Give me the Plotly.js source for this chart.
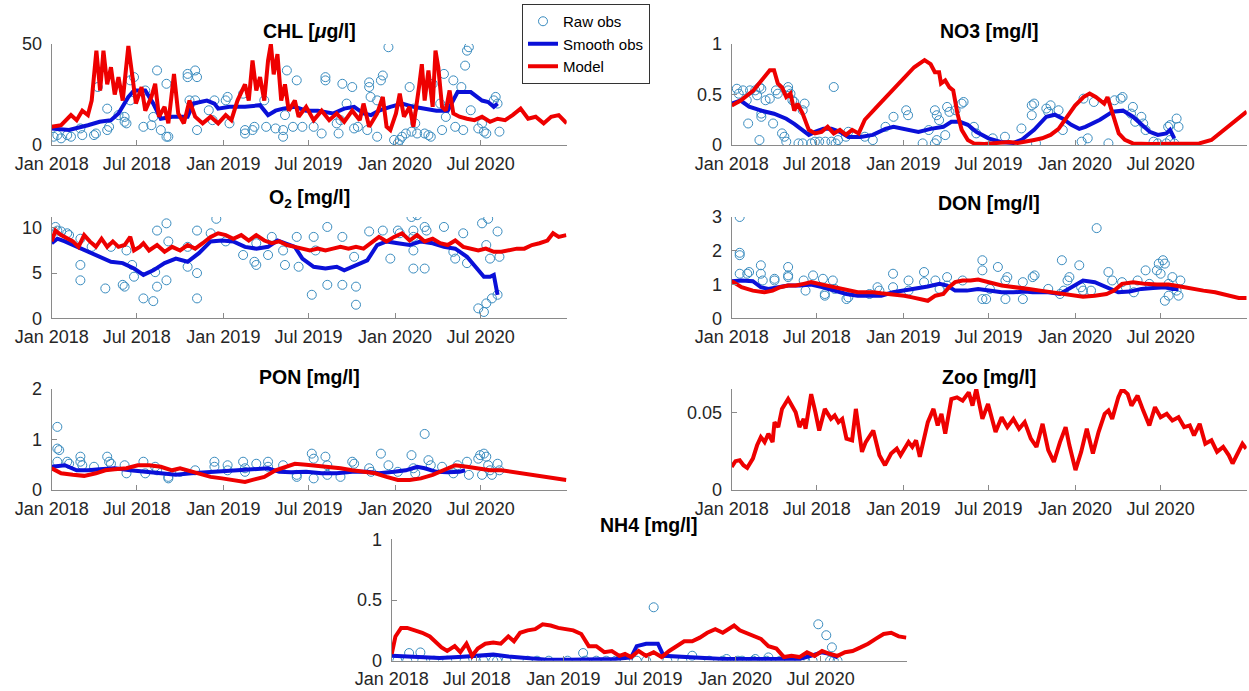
<!DOCTYPE html>
<html>
<head>
<meta charset="utf-8">
<script src="https://cdn.plot.ly/plotly-3.0.1.min.js"></script>
<style>
  html, body { margin: 0; padding: 0; background: #ffffff; }
  #chart { width: 1249px; height: 691px; }
</style>
</head>
<body>
<div id="chart"></div>
<script>
// Days since 2018-01-01 paired with values: [day, value]

const tickDates  = ['2018-01-01', '2018-07-01', '2019-01-01', '2019-07-01', '2020-01-01', '2020-07-01'];
const tickLabels = ['Jan 2018', 'Jul 2018', 'Jan 2019', 'Jul 2019', 'Jan 2020', 'Jul 2020'];

// ---------- CHL [ug/l] ----------
const chlObs = [[4,4.1],[12,4.9],[20,3.3],[33,4.9],[41,4.1],[61,8.2],[65,4.9],[90,4.9],[94,5.7],[98,28.7],[118,7.4],[122,9],[118,18],[142,14.8],[155,13.9],[155,11.5],[159,10.7],[167,32],[167,22.1],[175,33.6],[195,9],[199,27],[212,9.8],[216,13.9],[224,36.9],[232,7.4],[244,30.3],[244,4.1],[248,4.1],[289,35.2],[289,33.6],[305,36.9],[309,33.6],[293,22.1],[305,22.1],[309,7.4],[334,17.2],[342,12.3],[346,22.1],[370,22.1],[374,23.8],[378,10.7],[407,25.4],[411,7.4],[411,5.7],[427,7.4],[431,9],[452,22.1],[456,9],[476,8.2],[492,7.4],[492,4.1],[496,14.8],[500,36.9],[513,9],[521,32],[533,9],[557,9],[574,5.7],[582,33.6],[582,32],[606,10.7],[610,5.7],[614,12.3],[618,30.3],[627,20.5],[639,28.7],[643,8.2],[651,9],[671,7.4],[675,31],[675,28.7],[678,23.8],[692,22.1],[692,4.1],[700,32],[704,34.4],[716,48.4],[728,2.5],[736,0.8],[740,2.5],[745,4.1],[753,5.7],[761,28.7],[765,6.6],[769,18],[773,10.7],[777,5.7],[793,5.7],[801,4.9],[806,4.1],[810,30.3],[826,20.5],[830,7.4],[834,35.2],[838,13.9],[854,32],[858,9],[871,28.7],[875,7.4],[879,39.3],[883,46.7],[887,48.4],[891,17.2],[907,8.2],[915,10.7],[919,6.6],[924,5.7],[940,22.1],[944,23.8],[948,20.5],[952,6.6]];
const chlSmooth = [[0,8.2],[37,7.4],[77,9.8],[102,11.5],[126,12.3],[142,15.6],[163,23.8],[175,27],[199,27],[216,20.5],[232,13],[256,14],[289,14],[301,20.5],[330,22],[346,20.5],[354,18],[378,18.9],[411,18.9],[443,19.7],[460,14.8],[476,17],[492,18],[517,18.9],[541,17],[566,17],[598,15.6],[622,18],[643,18.9],[663,15.6],[679,14.8],[696,17],[720,18.9],[745,20.5],[769,18.9],[793,18],[818,17],[842,17],[863,26.2],[891,26.2],[915,22],[928,21.3],[940,18.9],[948,20.5]];
const chlModel = [[0,9],[20,9.8],[41,14.8],[53,12.3],[65,17],[77,14.8],[85,22],[95,46.7],[103,27],[110,46.7],[118,30],[126,38.5],[134,25],[142,33.6],[151,22],[163,49],[171,35],[179,20.5],[191,28.7],[199,17],[212,23.8],[220,30.3],[228,14],[240,18.9],[248,10.7],[260,35.2],[269,15.6],[281,10.7],[293,22],[305,14],[321,10.7],[338,14],[354,10.7],[370,14.8],[382,12.3],[395,22],[411,30],[419,22],[427,41.8],[435,27],[443,33.6],[452,22],[460,41.8],[466,50],[472,35],[480,45],[488,22],[496,30],[504,17],[517,22],[525,14],[541,18.9],[557,12.3],[574,17],[590,12.3],[606,15.6],[622,11.5],[639,17],[655,12.3],[663,20.5],[675,9],[692,15.6],[704,23.8],[712,9],[720,7.4],[732,15.6],[740,25.4],[749,14],[761,18.9],[769,9],[781,28.7],[787,40],[793,22],[801,36.9],[810,18.9],[816,46.7],[822,38.5],[830,18.9],[838,17],[846,27],[854,15.6],[867,14],[883,13],[899,12.3],[915,14],[932,11.5],[948,13],[964,12.3],[980,14.8],[997,18],[1013,13],[1029,14],[1046,10.7],[1062,14],[1078,14.8],[1095,10.7]];

// ---------- NO3 [mg/l] ----------
const no3Obs = [[11,.557],[15,.508],[24,.541],[32,.443],[39,.541],[50,.541],[54,.492],[59,.574],[63,.557],[59,.049],[35,.213],[63,.279],[63,.311],[72,.443],[81,.459],[88,.213],[94,.541],[98,.508],[107,.115],[112,.082],[116,.033],[120,.574],[120,.541],[125,.508],[129,.443],[133,.426],[142,.016],[151,.016],[155,.41],[151,.344],[169,.016],[177,.033],[186,.033],[199,.033],[212,.033],[217,.574],[221,.016],[226,.049],[243,.082],[248,.131],[283,.082],[300,.049],[327,.18],[344,.279],[371,.344],[375,.295],[406,.016],[419,.148],[432,.344],[436,.295],[441,.246],[432,.016],[436,.049],[454,.098],[458,.377],[463,.328],[476,.344],[489,.41],[493,.426],[515,.18],[520,.115],[555,.066],[581,.082],[616,.164],[638,.393],[643,.41],[638,.295],[647,.016],[669,.361],[673,.328],[678,.393],[695,.344],[704,.148],[744,.033],[748,.459],[757,.066],[770,.426],[801,.016],[814,.443],[827,.459],[831,.475],[849,.311],[853,.377],[858,.23],[871,.279],[875,.213],[880,.148],[897,.033],[906,.016],[924,.016],[928,.18],[932,.049],[941,.016],[946,.262],[950,.18],[932,.197]];
const no3Smooth = [[0,.41],[19,.44],[37,.38],[63,.34],[90,.31],[116,.26],[133,.21],[151,.15],[164,.10],[177,.13],[195,.16],[212,.16],[230,.13],[248,.08],[274,.08],[300,.10],[327,.16],[344,.18],[371,.15],[397,.13],[423,.16],[450,.18],[467,.23],[485,.23],[502,.20],[520,.13],[546,.066],[572,.03],[599,.02],[616,.05],[643,.15],[669,.28],[687,.30],[704,.26],[722,.20],[739,.16],[752,.18],[766,.21],[783,.25],[810,.33],[832,.34],[853,.28],[871,.20],[889,.13],[906,.10],[924,.115],[932,.15],[941,.066]];
const no3Model = [[0,.39],[19,.44],[46,.54],[68,.67],[81,.74],[90,.74],[98,.61],[107,.57],[116,.475],[125,.51],[133,.34],[140,.41],[151,.31],[164,.15],[177,.115],[191,.13],[204,.18],[217,.115],[230,.15],[243,.10],[256,.15],[270,.115],[283,.25],[309,.38],[335,.51],[362,.64],[388,.77],[410,.84],[423,.80],[432,.72],[441,.72],[445,.61],[454,.64],[463,.57],[471,.54],[480,.31],[489,.15],[502,.05],[515,.016],[537,.01],[564,.016],[590,.03],[608,.02],[625,.03],[643,.05],[660,.066],[678,.10],[695,.16],[713,.28],[730,.39],[748,.475],[761,.51],[774,.475],[783,.44],[792,.41],[799,.475],[805,.38],[814,.25],[823,.115],[836,.05],[853,.016],[889,.01],[950,.01],[994,.016],[1020,.05],[1047,.15],[1073,.25],[1095,.33]];

// ---------- O2 [mg/l] ----------
const o2Obs = [[8,10.1],[12,9.7],[20,9.6],[33,9.4],[37,9.2],[61,8.8],[61,5.9],[61,4.2],[85,7.9],[114,3.3],[126,7.9],[151,3.7],[155,3.5],[159,7.5],[171,5.9],[175,4.6],[195,2.2],[216,1.9],[220,5.1],[224,9.7],[224,3.5],[244,4.2],[244,10.5],[248,8.5],[289,5.7],[289,7.9],[309,9.7],[309,5.0],[309,2.2],[338,9.4],[350,11.0],[370,8.5],[407,7.0],[431,6.25],[435,5.9],[435,8.3],[460,7.0],[468,9.0],[492,7.5],[496,5.9],[521,9.0],[525,5.7],[553,2.6],[557,9.0],[561,7.5],[586,10.1],[586,3.7],[618,9.0],[618,3.7],[643,6.8],[647,3.5],[647,1.5],[675,9.6],[704,9.7],[720,6.6],[736,9.7],[740,9.4],[765,11.2],[777,11.4],[769,9.7],[769,9.0],[769,7.5],[769,5.5],[793,5.5],[793,10.1],[797,9.7],[834,10.1],[854,7.35],[858,6.6],[875,9.4],[883,6.1],[907,1.1],[915,10.5],[919,0.7],[924,1.65],[928,11.0],[924,8.1],[932,6.6],[936,2.2],[948,2.6],[948,9.6],[952,6.8]];
const o2Smooth = [[0,8.3],[12,8.8],[28,8.5],[53,7.9],[77,7.35],[102,6.8],[126,6.25],[151,6.1],[175,5.5],[195,4.8],[216,5.3],[240,6.1],[264,6.6],[289,6.25],[313,7.2],[338,8.5],[362,8.6],[386,8.5],[411,7.9],[435,7.7],[460,7.9],[480,8.6],[517,7.9],[533,6.6],[557,5.7],[582,5.5],[606,5.7],[622,5.3],[647,5.9],[671,6.4],[692,8.1],[712,8.5],[736,8.3],[761,8.1],[785,8.5],[810,8.3],[834,7.9],[858,7.7],[883,6.8],[903,5.5],[919,4.6],[932,4.6],[940,4.8],[948,2.6]];
const o2Model = [[0,8.5],[8,9.7],[20,9.2],[33,8.8],[45,8.5],[57,7.9],[69,9.2],[81,8.5],[94,7.9],[106,8.8],[118,7.9],[130,8.5],[142,7.9],[155,8.1],[167,9.0],[175,7.5],[187,7.9],[195,8.3],[207,7.5],[224,8.1],[240,7.35],[256,7.9],[273,7.5],[289,8.1],[305,7.7],[321,8.3],[338,9.0],[354,9.4],[370,9.2],[386,8.8],[403,9.2],[419,8.6],[435,9.2],[452,8.6],[468,8.3],[484,8.5],[500,8.1],[517,7.9],[533,7.7],[549,7.5],[566,7.7],[582,7.5],[598,7.7],[614,7.9],[631,7.7],[647,7.9],[663,7.7],[679,8.3],[696,9.0],[712,8.5],[728,9.0],[745,9.4],[761,8.6],[777,9.2],[793,8.5],[810,8.8],[826,8.3],[842,8.1],[858,8.6],[875,7.9],[891,7.7],[907,7.5],[923,7.7],[940,7.35],[956,7.35],[972,7.5],[989,7.7],[1005,7.7],[1021,8.1],[1037,8.3],[1054,8.6],[1066,9.4],[1078,9.0],[1094,9.2]];

// ---------- DON [mg/l] ----------
const donObs = [[17,3.0],[17,1.94],[17,1.87],[17,1.32],[33,1.32],[37,1.37],[62,1.57],[62,1.32],[66,1.12],[91,1.17],[91,1.12],[120,1.52],[120,1.27],[120,1.22],[153,1.12],[157,0.82],[173,1.27],[194,1.17],[198,0.67],[198,0.72],[215,1.12],[219,0.87],[244,0.57],[248,0.62],[293,0.72],[310,0.92],[314,0.82],[343,1.32],[343,0.92],[376,1.12],[376,0.82],[409,1.37],[409,1.07],[433,1.12],[442,0.87],[458,1.22],[458,0.97],[491,1.12],[533,1.72],[533,1.42],[533,0.57],[541,0.57],[549,0.87],[566,1.52],[582,1.12],[586,1.22],[582,0.57],[619,1.07],[619,0.57],[640,1.22],[644,1.27],[673,0.87],[698,0.72],[702,1.72],[706,0.82],[714,1.12],[718,1.22],[739,1.57],[743,0.92],[747,0.82],[764,0.82],[776,2.67],[801,1.37],[809,1.12],[830,1.07],[838,0.92],[855,0.77],[863,1.12],[880,1.42],[888,1.02],[904,1.42],[908,1.62],[912,1.32],[917,1.72],[921,1.62],[921,0.52],[929,0.67],[929,1.02],[937,1.22],[946,0.82],[950,0.67],[954,1.12]];
const donSmooth = [[0,1.1],[21,1.12],[45,1.1],[62,0.92],[78,0.87],[95,0.92],[120,0.97],[145,0.97],[169,1.0],[194,0.92],[219,0.82],[244,0.72],[268,0.67],[293,0.67],[318,0.67],[343,0.77],[367,0.82],[392,0.87],[417,0.94],[442,1.02],[458,0.97],[475,0.82],[500,0.82],[524,0.87],[549,0.82],[574,0.77],[599,0.77],[623,0.79],[640,0.77],[673,0.77],[698,0.72],[722,0.92],[747,1.12],[772,1.07],[797,0.92],[822,0.77],[846,0.79],[871,0.87],[896,0.9],[921,0.92],[937,0.87],[950,0.87]];
const donModel = [[0,1.1],[21,0.92],[45,0.82],[70,0.77],[87,0.82],[103,0.92],[120,0.97],[136,0.97],[153,1.02],[169,1.07],[186,1.02],[202,0.97],[219,0.92],[235,0.87],[252,0.82],[268,0.77],[285,0.77],[301,0.77],[318,0.74],[334,0.72],[351,0.67],[367,0.67],[384,0.62],[400,0.57],[417,0.52],[433,0.67],[450,0.72],[462,0.92],[475,1.07],[491,1.12],[508,1.12],[524,1.15],[541,1.09],[557,1.02],[574,0.97],[590,0.94],[607,0.92],[632,0.87],[656,0.82],[681,0.77],[706,0.72],[722,0.67],[747,0.64],[772,0.67],[797,0.72],[813,0.82],[830,1.02],[854,1.07],[879,1.02],[904,1.0],[929,1.0],[954,0.94],[978,0.87],[1003,0.82],[1028,0.77],[1053,0.67],[1078,0.6],[1095,0.6]];

// ---------- PON [mg/l] ----------
const ponObs = [[12,1.25],[12,0.82],[16,0.79],[12,0.56],[33,0.56],[37,0.52],[61,0.66],[61,0.56],[65,0.49],[90,0.46],[118,0.66],[122,0.56],[126,0.52],[155,0.49],[159,0.33],[195,0.56],[199,0.33],[220,0.46],[224,0.39],[248,0.26],[248,0.23],[273,0.36],[305,0.39],[346,0.56],[346,0.46],[374,0.49],[374,0.39],[407,0.56],[411,0.43],[411,0.36],[435,0.52],[460,0.56],[460,0.46],[492,0.49],[521,0.3],[521,0.26],[553,0.72],[557,0.62],[557,0.23],[582,0.66],[586,0.49],[586,0.3],[614,0.26],[639,0.56],[643,0.52],[675,0.43],[679,0.36],[700,0.72],[716,0.49],[736,0.36],[765,0.69],[769,0.43],[773,0.33],[793,1.11],[801,0.59],[806,0.49],[830,0.46],[854,0.33],[863,0.49],[883,0.56],[887,0.3],[907,0.62],[911,0.69],[919,0.72],[924,0.66],[915,0.3],[928,0.49],[932,0.39],[936,0.3],[948,0.52],[952,0.39]];
const ponSmooth = [[0,0.46],[28,0.49],[53,0.39],[77,0.39],[102,0.41],[134,0.43],[167,0.39],[199,0.36],[232,0.33],[264,0.3],[297,0.33],[330,0.36],[362,0.37],[395,0.39],[427,0.41],[460,0.43],[484,0.36],[509,0.35],[541,0.36],[574,0.33],[606,0.33],[639,0.36],[671,0.36],[696,0.33],[728,0.36],[753,0.39],[777,0.46],[793,0.43],[818,0.36],[842,0.35],[867,0.36],[879,0.39]];
const ponModel = [[0,0.43],[20,0.33],[45,0.30],[69,0.28],[94,0.33],[114,0.39],[134,0.41],[159,0.43],[183,0.49],[207,0.49],[232,0.46],[256,0.39],[273,0.43],[289,0.39],[313,0.33],[338,0.26],[362,0.23],[386,0.2],[411,0.16],[427,0.2],[452,0.26],[476,0.39],[496,0.46],[517,0.52],[541,0.5],[566,0.48],[590,0.45],[614,0.43],[639,0.39],[663,0.36],[688,0.33],[712,0.26],[736,0.2],[761,0.2],[785,0.23],[810,0.3],[834,0.39],[858,0.49],[883,0.46],[907,0.43],[932,0.39],[956,0.39],[980,0.36],[1005,0.33],[1029,0.3],[1054,0.26],[1078,0.22],[1094,0.2]];

// ---------- Zoo [mg/l] ----------
const zooModel = [[0,.0150],[8,.0187],[17,.0193],[25,.0161],[33,.0144],[45,.0204],[54,.0290],[62,.0343],[70,.0311],[78,.0365],[87,.0311],[91,.0440],[99,.0408],[107,.0526],[120,.0590],[128,.0547],[136,.0504],[144,.0408],[153,.0461],[157,.0397],[169,.0622],[178,.0504],[186,.0386],[198,.0526],[211,.0461],[219,.0483],[227,.0440],[235,.0461],[244,.0333],[256,.0322],[264,.0526],[277,.0247],[285,.0311],[301,.0386],[314,.0225],[326,.0161],[339,.0236],[351,.0268],[359,.0225],[376,.0311],[384,.0279],[392,.0322],[400,.0215],[417,.0440],[429,.0526],[438,.0419],[446,.0494],[454,.0365],[467,.0590],[479,.0601],[491,.0579],[504,.0633],[512,.0547],[520,.0655],[533,.0461],[545,.0558],[553,.0472],[561,.0376],[574,.0472],[586,.0408],[599,.0461],[611,.0397],[623,.0440],[636,.0333],[648,.0279],[661,.0429],[673,.0258],[685,.0182],[698,.0311],[710,.0408],[718,.0290],[731,.0129],[743,.0247],[755,.0397],[768,.0236],[780,.0376],[793,.0494],[801,.0515],[809,.0461],[822,.0601],[830,.0655],[842,.0622],[850,.0547],[863,.0612],[875,.0515],[888,.0419],[900,.0537],[912,.0472],[925,.0494],[937,.0451],[950,.0472],[962,.0408],[974,.0419],[983,.0354],[995,.0429],[1007,.0300],[1020,.0322],[1032,.0247],[1045,.0279],[1057,.0225],[1065,.0172],[1078,.0247],[1086,.0300],[1094,.0268]];

// ---------- NH4 [mg/l] ----------
const nh4Obs = [[12,0],[33,0],[37,0.063],[61,0.068],[65,0],[90,0],[118,0],[155,0],[179,0],[195,0],[216,0],[224,0],[244,0],[289,0],[309,0],[334,0],[374,0],[407,0.063],[411,0],[435,0],[456,0],[476,0],[496,0],[521,0],[541,0],[557,0.44],[586,0],[618,0],[639,0.041],[675,0],[704,0],[712,0.014],[736,0],[745,0],[769,0],[773,0.014],[797,0],[801,0.027],[826,0],[867,0],[879,0],[895,0],[907,0.3],[924,0.21],[936,0.11],[932,0],[940,0],[948,0]];
const nh4Smooth = [[0,0.04],[53,0.027],[102,0.022],[151,0.033],[183,0.04],[216,0.05],[248,0.035],[281,0.022],[330,0.008],[378,0.008],[427,0.008],[476,0.014],[509,0.027],[521,0.12],[541,0.14],[566,0.14],[578,0.04],[598,0.035],[639,0.027],[671,0.019],[704,0.014],[753,0.014],[801,0.014],[834,0.008],[867,0.014],[891,0.04],[915,0.07],[932,0.055],[948,0.027]];
const nh4Model = [[0,0.055],[8,0.2],[20,0.27],[33,0.27],[49,0.25],[65,0.23],[81,0.2],[94,0.15],[106,0.11],[118,0.08],[134,0.12],[146,0.07],[159,0.14],[171,0.04],[183,0.1],[199,0.14],[216,0.15],[232,0.14],[248,0.2],[260,0.16],[273,0.23],[289,0.25],[305,0.26],[321,0.3],[338,0.29],[354,0.27],[370,0.26],[386,0.25],[403,0.22],[419,0.12],[435,0.12],[452,0.07],[468,0.08],[484,0.04],[496,0.055],[509,0.03],[525,0.08],[541,0.04],[557,0.07],[574,0.03],[590,0.08],[606,0.12],[622,0.16],[639,0.16],[655,0.19],[671,0.23],[688,0.26],[704,0.23],[720,0.27],[728,0.29],[740,0.25],[753,0.23],[769,0.2],[785,0.18],[801,0.12],[818,0.1],[834,0.03],[850,0.04],[867,0.03],[883,0.07],[899,0.04],[915,0.08],[932,0.055],[948,0.04],[964,0.07],[980,0.08],[997,0.11],[1013,0.14],[1029,0.18],[1046,0.22],[1062,0.23],[1078,0.2],[1094,0.19]];

// ---------- drawing ----------
const W = 1249, H = 691;
const FONT = 'Liberation Sans, Arial, Helvetica, sans-serif';
const AXIS_GRAY = '#8a8a8a';
const TEXT_DARK = '#262626';
const OBS_COLOR = '#3a8cbf';
const SMOOTH_COLOR = '#0a10d8';
const MODEL_COLOR = '#ee0000';
const TICK_SIZE = 18;
const TITLE_SIZE = 19.5;

const START = Date.UTC(2018, 0, 1);
function toDate(day) {
  return new Date(START + day * 86400000).toISOString().slice(0, 10);
}
function xs(pairs) { return pairs.map(p => toDate(p[0])); }
function ys(pairs) { return pairs.map(p => p[1]); }
const px = v => v / W;
const py = v => 1 - v / H;

// pixel boxes [left, right, top, bottom]
const panels = [
  { title: '<b>CHL [<i>μ</i>g/l]</b>', box: [51.7, 566.7, 44, 145], yRange: [0, 50], yTicks: [0, 50], titleY: 31, obs: chlObs, smooth: chlSmooth, model: chlModel },
  { title: '<b>NO3 [mg/l]</b>', box: [731.7, 1246.7, 44, 145], yRange: [0, 1], yTicks: [0, 0.5, 1], titleY: 31, obs: no3Obs, smooth: no3Smooth, model: no3Model },
  { title: '<b>O<sub>2</sub> [mg/l]</b>', box: [51.7, 566.7, 217, 318.3], yRange: [0, 11.2], yTicks: [0, 5, 10], titleY: 199, obs: o2Obs, smooth: o2Smooth, model: o2Model },
  { title: '<b>DON [mg/l]</b>', box: [731.7, 1246.7, 217, 318.3], yRange: [0, 3], yTicks: [0, 1, 2, 3], titleY: 203, obs: donObs, smooth: donSmooth, model: donModel },
  { title: '<b>PON [mg/l]</b>', box: [51.7, 566.7, 389, 490], yRange: [0, 2], yTicks: [0, 1, 2], titleY: 376.5, obs: ponObs, smooth: ponSmooth, model: ponModel },
  { title: '<b>Zoo [mg/l]</b>', box: [731.7, 1246.7, 389, 490], yRange: [0, 0.0655], yTicks: [0, 0.05], titleY: 376.5, obs: null, smooth: null, model: zooModel },
  { title: '<b>NH4 [mg/l]</b>', box: [391.7, 906.7, 539.3, 660.7], yRange: [0, 1], yTicks: [0, 0.5, 1], titleY: 525, obs: nh4Obs, smooth: nh4Smooth, model: nh4Model }
];

const traces = [];
const layout = {
  width: W, height: H,
  margin: { l: 0, r: 0, t: 0, b: 0 },
  paper_bgcolor: '#ffffff',
  plot_bgcolor: '#ffffff',
  font: { family: FONT, size: TICK_SIZE, color: TEXT_DARK },
  showlegend: true,
  legend: {
    x: px(522), y: py(4), xanchor: 'left', yanchor: 'top',
    bgcolor: '#ffffff', bordercolor: '#333333', borderwidth: 1,
    font: { family: FONT, size: 15, color: '#000000' },
    entrywidth: 124, entrywidthmode: 'pixels',
    tracegroupgap: 0
  },
  annotations: []
};

panels.forEach((p, i) => {
  const n = i + 1;
  const xa = n === 1 ? 'x' : 'x' + n;
  const ya = n === 1 ? 'y' : 'y' + n;
  const first = i === 0;

  if (p.obs) {
    traces.push({
      type: 'scatter', mode: 'markers', name: 'Raw obs',
      x: xs(p.obs), y: ys(p.obs), xaxis: xa, yaxis: ya,
      marker: { symbol: 'circle-open', size: 9, color: OBS_COLOR, line: { width: 1, color: OBS_COLOR } },
      showlegend: first, legendgroup: 'obs'
    });
  }
  if (p.smooth) {
    traces.push({
      type: 'scatter', mode: 'lines', name: 'Smooth obs',
      x: xs(p.smooth), y: ys(p.smooth), xaxis: xa, yaxis: ya,
      line: { color: SMOOTH_COLOR, width: 4 },
      showlegend: first, legendgroup: 'smooth'
    });
  }
  traces.push({
    type: 'scatter', mode: 'lines', name: 'Model',
    x: xs(p.model), y: ys(p.model), xaxis: xa, yaxis: ya,
    line: { color: MODEL_COLOR, width: 4 },
    showlegend: first, legendgroup: 'model'
  });

  const [l, r, t, b] = p.box;
  layout['xaxis' + (n === 1 ? '' : n)] = {
    domain: [px(l), px(r)], anchor: ya, type: 'date',
    range: ['2018-01-01', '2020-12-31'],
    tickmode: 'array', tickvals: tickDates, ticktext: tickLabels,
    showline: true, linecolor: AXIS_GRAY, linewidth: 1,
    ticks: 'inside', ticklen: 5, tickcolor: AXIS_GRAY,
    tickfont: { family: FONT, size: TICK_SIZE, color: TEXT_DARK },
    ticklabelstandoff: 2,
    showgrid: false, zeroline: false, fixedrange: true
  };
  layout['yaxis' + (n === 1 ? '' : n)] = {
    domain: [py(b), py(t)], anchor: xa,
    range: p.yRange,
    tickmode: 'array', tickvals: p.yTicks,
    showline: true, linecolor: AXIS_GRAY, linewidth: 1,
    ticks: 'inside', ticklen: 5, tickcolor: AXIS_GRAY,
    tickfont: { family: FONT, size: TICK_SIZE, color: TEXT_DARK },
    ticklabelstandoff: 5,
    showgrid: false, zeroline: false, fixedrange: true
  };
  layout.annotations.push({
    text: p.title, xref: 'paper', yref: 'paper',
    x: px((l + r) / 2), y: py(p.titleY), xanchor: 'center', yanchor: 'middle',
    showarrow: false, font: { family: FONT, size: TITLE_SIZE, color: '#000000' }
  });
});

Plotly.newPlot('chart', traces, layout, { displayModeBar: false, staticPlot: true });
</script>
</body>
</html>
